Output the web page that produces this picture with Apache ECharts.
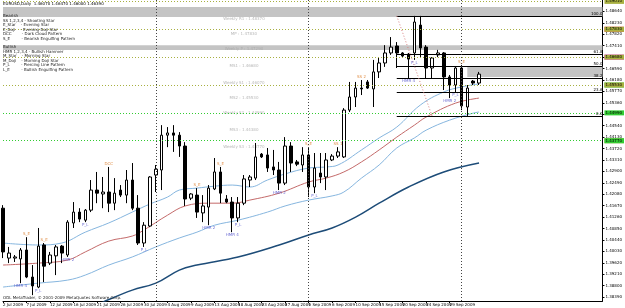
<!DOCTYPE html>
<html lang="en">
<head>
<meta charset="UTF-8">
<title>EURUSD,Daily</title>
<script src="https://cdn.jsdelivr.net/npm/echarts@6/dist/echarts.min.js"></script>
<style type="text/css">
    html,body{margin:0;padding:0;background:#fff;}
    #chart{width:625px;height:308px;}
</style>
</head>
<body>
<div id="chart"></div>
<script type="text/javascript">
// bars (with MT4 sunday bars)
var dates = ['2 Jul 2009','3 Jul 2009','5 Jul 2009','6 Jul 2009','7 Jul 2009','8 Jul 2009','9 Jul 2009','10 Jul 2009','12 Jul 2009','13 Jul 2009','14 Jul 2009','15 Jul 2009','16 Jul 2009','17 Jul 2009','19 Jul 2009','20 Jul 2009','21 Jul 2009','22 Jul 2009','23 Jul 2009','24 Jul 2009','26 Jul 2009','27 Jul 2009','28 Jul 2009','29 Jul 2009','30 Jul 2009','31 Jul 2009',
    '2 Aug 2009','3 Aug 2009','4 Aug 2009','5 Aug 2009','6 Aug 2009','7 Aug 2009','9 Aug 2009','10 Aug 2009','11 Aug 2009','12 Aug 2009','13 Aug 2009','14 Aug 2009','16 Aug 2009','17 Aug 2009','18 Aug 2009','19 Aug 2009','20 Aug 2009','21 Aug 2009','23 Aug 2009','24 Aug 2009','25 Aug 2009','26 Aug 2009','27 Aug 2009','28 Aug 2009','30 Aug 2009','31 Aug 2009',
    '1 Sep 2009','2 Sep 2009','3 Sep 2009','4 Sep 2009','6 Sep 2009','7 Sep 2009','8 Sep 2009','9 Sep 2009','10 Sep 2009','11 Sep 2009','13 Sep 2009','14 Sep 2009','15 Sep 2009','16 Sep 2009','17 Sep 2009','18 Sep 2009','20 Sep 2009','21 Sep 2009','22 Sep 2009','23 Sep 2009','24 Sep 2009','25 Sep 2009','27 Sep 2009','28 Sep 2009','29 Sep 2009','30 Sep 2009',
    '1 Oct 2009','2 Oct 2009','4 Oct 2009','5 Oct 2009'];
var emptyBars = 21; // chart shift on the right

// [open, close, low, high]
var ohlc = [
    [1.4158,1.4001,1.3979,1.4169],[1.3979,1.3997,1.3961,1.4019],[1.3979,1.3983,1.3965,1.3990],[1.3976,1.4008,1.3889,1.4015],
    [1.4008,1.3911,1.3907,1.4054],[1.3911,1.3879,1.3846,1.3954],[1.3875,1.4022,1.3871,1.4087],[1.4026,1.3950,1.3893,1.4033],
    [1.3961,1.3990,1.3954,1.4001],[1.3987,1.4019,1.3918,1.4026],[1.4022,1.3997,1.3961,1.4026],[1.3990,1.4108,1.3983,1.4115],
    [1.4105,1.4144,1.4087,1.4180],[1.4144,1.4119,1.4108,1.4158],[1.4115,1.4151,1.4108,1.4155],[1.4151,1.4223,1.4144,1.4259],
    [1.4223,1.4212,1.4176,1.4288],[1.4209,1.4216,1.4158,1.4270],[1.4216,1.4176,1.4144,1.4306],[1.4176,1.4212,1.4151,1.4266],
    [1.4223,1.4205,1.4198,1.4241],[1.4205,1.4259,1.4176,1.4295],[1.4259,1.4158,1.4151,1.4320],[1.4158,1.4033,1.4026,1.4205],
    [1.4033,1.4097,1.4019,1.4108],[1.4094,1.4270,1.4090,1.4273],[1.4277,1.4298,1.4216,1.4313],[1.4295,1.4420,1.4223,1.4456],
    [1.4420,1.4428,1.4377,1.4449],[1.4428,1.4420,1.4360,1.4456],[1.4420,1.4381,1.4342,1.4431],[1.4381,1.4191,1.4166,1.4395],
    [1.4194,1.4209,1.4187,1.4212],[1.4205,1.4144,1.4123,1.4230],[1.4141,1.4166,1.4108,1.4205],[1.4162,1.4230,1.4097,1.4241],
    [1.4227,1.4288,1.4223,1.4338],[1.4288,1.4212,1.4176,1.4306],[1.4191,1.4180,1.4176,1.4205],[1.4180,1.4123,1.4072,1.4198],
    [1.4123,1.4176,1.4108,1.4198],[1.4176,1.4263,1.4169,1.4277],[1.4259,1.4270,1.4234,1.4277],[1.4266,1.4342,1.4259,1.4392],
    [1.4352,1.4342,1.4338,1.4356],[1.4349,1.4302,1.4288,1.4374],[1.4306,1.4295,1.4277,1.4367],[1.4295,1.4248,1.4223,1.4324],
    [1.4248,1.4381,1.4241,1.4413],[1.4381,1.4320,1.4288,1.4395],[1.4324,1.4316,1.4309,1.4331],[1.4313,1.4349,1.4288,1.4377],
    [1.4349,1.4234,1.4198,1.4377],[1.4234,1.4302,1.4212,1.4356],[1.4284,1.4270,1.4248,1.4356],[1.4270,1.4331,1.4223,1.4356],
    [1.4331,1.4345,1.4327,1.4352],[1.4345,1.4360,1.4338,1.4377],[1.4342,1.4510,1.4338,1.4517],[1.4510,1.4557,1.4503,1.4611],
    [1.4557,1.4589,1.4521,1.4611],[1.4589,1.4586,1.4564,1.4618],[1.4611,1.4589,1.4586,1.4618],[1.4586,1.4647,1.4521,1.4690],
    [1.4647,1.4679,1.4625,1.4700],[1.4679,1.4715,1.4665,1.4743],[1.4715,1.4736,1.4708,1.4772],[1.4740,1.4715,1.4661,1.4754],
    [1.4715,1.4704,1.4700,1.4718],[1.4711,1.4693,1.4625,1.4715],[1.4715,1.4826,1.4690,1.4848],[1.4815,1.4733,1.4700,1.4848],
    [1.4736,1.4661,1.4625,1.4743],[1.4661,1.4697,1.4625,1.4700],[1.4708,1.4715,1.4700,1.4726],[1.4715,1.4629,1.4582,1.4718],
    [1.4629,1.4600,1.4553,1.4636],[1.4600,1.4661,1.4575,1.4665],[1.4661,1.4525,1.4510,1.4672],[1.4521,1.4589,1.4489,1.4600],
    [1.4614,1.4607,1.4600,1.4618],[1.4607,1.4639,1.4600,1.4647]
];

// moving averages, [bar, price]
var maUpper = [[0,1.4033],[6,1.4026],[10,1.4033],[14,1.4072],[18,1.4105],[22,1.4144],[25,1.4173],[28,1.4198],[30,1.4223],[33,1.4230],[36,1.4237],[39,1.4241],[42,1.4234],[45,1.4259],[48,1.4281],[52,1.4302],[55,1.4306],[57,1.4313],[61,1.4367],[64,1.4410],[67,1.4449],[71,1.4528],[75,1.4575],[78,1.4593],[81,1.4604]];
var maMid = [[0,1.3954],[6,1.3961],[11,1.3972],[14,1.4001],[18,1.4040],[22,1.4058],[24,1.4080],[28,1.4133],[31,1.4166],[35,1.4176],[39,1.4176],[42,1.4187],[47,1.4212],[52,1.4252],[55,1.4266],[58,1.4288],[61,1.4324],[64,1.4367],[67,1.4413],[70,1.4456],[72,1.4485],[77,1.4535],[81,1.4553]];
var maLower = [[0,1.3875],[6,1.3889],[11,1.3900],[14,1.3918],[18,1.3954],[22,1.3983],[26,1.4019],[30,1.4051],[33,1.4072],[36,1.4097],[40,1.4115],[45,1.4144],[48,1.4166],[52,1.4187],[56,1.4202],[58,1.4216],[61,1.4266],[64,1.4313],[67,1.4374],[70,1.4410],[72,1.4438],[76,1.4474],[80,1.4499],[81,1.4503]];
var maLong = [[16,1.3810],[17,1.3821],[22,1.3864],[26,1.3889],[30,1.3936],[33,1.3954],[40,1.3983],[47,1.4026],[52,1.4062],[56,1.4087],[60,1.4126],[64,1.4176],[69,1.4234],[75,1.4288],[81,1.4320]];

// pivot levels
var levelNames = ['MR1','Weekly R1','MP','Weekly P','MS1','Weekly S1','MS2','Weekly S2','MS3','Weekly S3'];
var levelPrices = [1.4901,1.4837,1.4783,1.4729,1.4668,1.4607,1.4553,1.4499,1.4438,1.4377];

// fibo
var fibNames = ['100.0','61.8','50.0','38.2','23.6','0.0'];
var fibPrices = [1.4848,1.4711,1.4668,1.4626,1.4574,1.4489];
var fibFrom = 67, fibTo = 73;

// rectangles [top, bottom]
var zones = [[1.4880,1.4844],[1.4743,1.4726]];
var zoneRight = [1.4668,1.4629], zoneRightFrom = 79;

// month separators
var separators = [26,52,78];

// candle patterns
var bearIdx = [4,7,18,33,37,52,57,61,78];
var bearNames = ['S_E','S_E','DCC','S_E','S_E','S_E','SS 1','SS 2','S_E'];
var bullIdx = [3,6,11,14,24,35,39,40,47,53,69,70,76,77];
var bullNames = ['HMR 4','P_L','HMR 2','P_L','P_L','HMR 2','HMR 4','P_L','HMR 2','P_L','HMR 4','P_L','HMR 2','P_L'];

// right axis
var yMin = 1.3825, yMax = 1.4905;
var yTicks = [1.3839,1.3880,1.3921,1.3962,1.4003,1.4044,1.4085,1.4126,1.4167,1.4208,1.4249,1.4290,1.4331,1.4372,1.4413,1.4454,1.4495,1.4536,1.4577,1.4618,1.4659,1.4700,1.4741,1.4782,1.4823,1.4864];

var legendBear = ['Bearish','SS 1,2,3,4 - Shooting Star','E_Star    - Evening Star','E_Doji    - Evening Doji Star','DCC        - Dark Cloud Pattern','S_E         - Bearish Engulfing Pattern'];
var legendBull = ['Bullish','HMR 1,2,3,4 - Bullish Hammer','M_Star    - Morning Star','M_Doji    - Morning Doji Star','P_L         - Piercing Line Pattern','L_E         - Bullish Engulfing Pattern'];

function levelColor(name) {
    if (name == 'Weekly R1') return '#ff3030';
    if (name == 'Weekly P') return '#ff00ff';
    if (name.indexOf('Weekly') == 0) return '#33cc33';
    return '#a8b040';
}

function fmt(v) {
    return v.toFixed(5);
}

function buildChart() {
    var myChart = echarts.init(document.getElementById('chart'));
    var cats = dates.slice(), i;
    for (i = 0; i < emptyBars; i++) {
        cats.push('_' + i);
    }
    var lastCat = cats[cats.length - 1];
    var last = ohlc[ohlc.length - 1];

    var lines = [], areas = [], texts = [], bear = [], bull = [];
    for (i = 0; i < levelPrices.length; i++) {
        var c = levelColor(levelNames[i]);
        lines.push({
            yAxis: levelPrices[i],
            lineStyle: {color: c, type: [1, 2], width: 1},
            label: {show: true, position: 'end', distance: 2, formatter: fmt(levelPrices[i]),
                backgroundColor: c, color: (c == '#ff3030') ? '#fff' : '#000', fontSize: 4, padding: [1, 2, 0, 1]}
        });
        if (i > 0) {
            texts.push({value: [41, levelPrices[i]], name: levelNames[i] + ' : ' + fmt(levelPrices[i])});
        }
    }
    // current price
    lines.push({
        yAxis: last[1],
        lineStyle: {opacity: 0},
        label: {show: true, position: 'end', distance: 2, formatter: fmt(last[1]),
            backgroundColor: '#000', color: '#fff', fontSize: 4, padding: [1, 2, 0, 1]}
    });
    for (i = 0; i < fibPrices.length; i++) {
        lines.push([
            {coord: [cats[fibFrom], fibPrices[i]], lineStyle: {color: '#000', type: 'solid', width: 1},
                label: {show: true, position: 'insideEndTop', distance: 0, formatter: fibNames[i], color: '#000', fontSize: 4}},
            {coord: [lastCat, fibPrices[i]]}
        ]);
    }
    lines.push([
        {coord: [cats[fibFrom], fibPrices[0]], lineStyle: {color: '#d88080', type: [1, 2], width: 1}, label: {show: false}},
        {coord: [cats[fibTo], fibPrices[fibPrices.length - 1]]}
    ]);
    for (i = 0; i < separators.length; i++) {
        lines.push({xAxis: cats[separators[i]], lineStyle: {color: '#444', type: [1, 2], width: 1}, label: {show: false}});
    }
    for (i = 0; i < zones.length; i++) {
        areas.push([{yAxis: zones[i][0]}, {yAxis: zones[i][1]}]);
    }
    areas.push([{xAxis: cats[zoneRightFrom], yAxis: zoneRight[0]}, {xAxis: lastCat, yAxis: zoneRight[1]}]);

    for (i = 0; i < bearIdx.length; i++) {
        bear.push({value: [bearIdx[i], ohlc[bearIdx[i]][3]], name: bearNames[i]});
    }
    for (i = 0; i < bullIdx.length; i++) {
        bull.push({value: [bullIdx[i], ohlc[bullIdx[i]][2]], name: bullNames[i]});
    }

    var graphics = [];
    graphics.push({type: 'text', left: 3, top: 2, z: 100, style: {
        text: 'EURUSD,Daily  ' + fmt(last[0]) + ' ' + fmt(last[3]) + ' ' + fmt(last[2]) + ' ' + fmt(last[1]),
        fontSize: 4, fill: '#000', fontFamily: 'DejaVu Sans'}});
    for (i = 0; i < legendBear.length; i++) {
        graphics.push({type: 'text', left: 3, top: 14 + i * 4.6, z: 100,
            style: {text: legendBear[i], fontSize: 4, fill: '#222', fontFamily: 'DejaVu Sans'}});
    }
    for (i = 0; i < legendBull.length; i++) {
        graphics.push({type: 'text', left: 3, top: 45 + i * 4.6, z: 100,
            style: {text: legendBull[i], fontSize: 4, fill: '#222', fontFamily: 'DejaVu Sans'}});
    }
    graphics.push({type: 'text', left: 3, top: 296, z: 100, style: {
        text: 'ODL MetaTrader, \u00a9 2001-2009 MetaQuotes Software Corp.', fontSize: 4, fill: '#222', fontFamily: 'DejaVu Sans'}});

    var maStyle = function (name, data, color, width) {
        return {type: 'line', name: name, data: data, smooth: 0.4, symbol: 'none', z: 3,
            lineStyle: {color: color, width: width}, silent: true};
    };

    var option = {
        animation: false,
        backgroundColor: '#fff',
        textStyle: {fontFamily: 'DejaVu Sans'},
        grid: {left: 0, right: 14, top: 0, bottom: 7},
        xAxis: {
            type: 'category',
            data: cats,
            boundaryGap: false,
            axisLine: {lineStyle: {color: '#000', width: 1}},
            axisTick: {show: true, length: 2, lineStyle: {color: '#000'},
                interval: function (idx) { return idx % 4 == 0 && idx < dates.length; }},
            axisLabel: {fontSize: 4, color: '#000', align: 'left', margin: 2,
                interval: function (idx) { return idx % 4 == 0 && idx < dates.length; },
                formatter: function (v, idx) { return idx < dates.length ? v : ''; }},
            splitLine: {show: false}
        },
        yAxis: {
            type: 'value',
            position: 'right',
            min: yMin,
            max: yMax,
            axisLine: {show: true, lineStyle: {color: '#000', width: 1}},
            axisTick: {show: true, length: 2, customValues: yTicks, lineStyle: {color: '#000'}},
            axisLabel: {fontSize: 4, color: '#000', margin: 3, customValues: yTicks, formatter: fmt},
            splitLine: {show: false}
        },
        graphic: graphics,
        series: [
            {
                type: 'line', name: 'objects', data: [], z: 1, silent: true,
                markArea: {silent: true, itemStyle: {color: '#c4c4c4'}, data: areas},
                markLine: {silent: true, symbol: ['none', 'none'], animation: false, data: lines}
            },
            maStyle('ma1', maUpper, '#86b6df', 1),
            maStyle('ma2', maMid, '#c46a6a', 1),
            maStyle('ma3', maLower, '#86b6df', 1),
            maStyle('ma4', maLong, '#1d4c78', 1.5),
            {
                type: 'candlestick', name: 'EURUSD', data: ohlc, barWidth: 3, z: 4,
                itemStyle: {color: '#fff', color0: '#000', borderColor: '#000', borderColor0: '#000', borderWidth: 1}
            },
            {
                type: 'scatter', name: 'pivots', data: texts, symbolSize: 0, z: 2, silent: true,
                label: {show: true, position: 'inside', formatter: '{b}', fontSize: 4, color: '#a8a8a8'}
            },
            {
                type: 'scatter', name: 'bear', data: bear, symbolSize: 0, z: 5, silent: true,
                label: {show: true, position: 'top', distance: 1, formatter: '{b}', fontSize: 4, color: '#d9731a'}
            },
            {
                type: 'scatter', name: 'bull', data: bull, symbolSize: 0, z: 5, silent: true,
                label: {show: true, position: 'bottom', distance: 1, formatter: '{b}', fontSize: 4, color: '#4a4ac8'}
            }
        ]
    };
    myChart.setOption(option);
}
buildChart();
</script>
</body>
</html>
